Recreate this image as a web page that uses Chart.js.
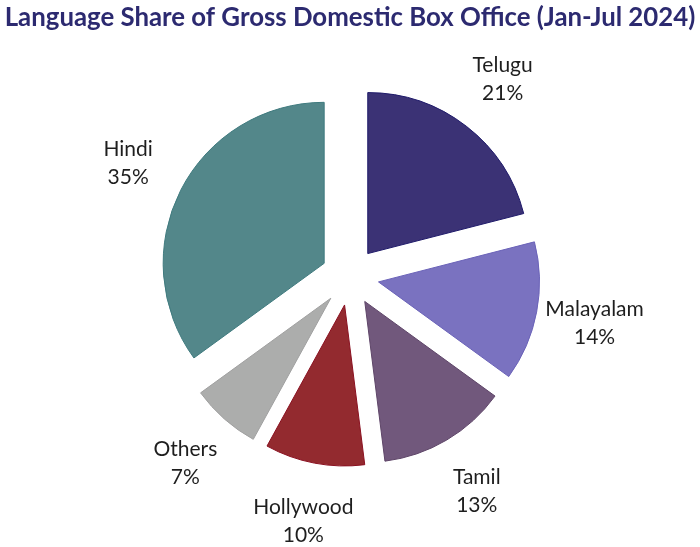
<!DOCTYPE html>
<html>
<head>
<meta charset="utf-8">
<script src="https://cdn.jsdelivr.net/npm/chart.js@4"></script>
<style>
  html, body { margin: 0; padding: 0; background: #fff; }
  #wrap { width: 700px; height: 547px; }
</style>
</head>
<body>
<div id="wrap"><canvas id="grafica"></canvas></div>
<script>
// Share of gross domestic box office by language, Jan-Jul 2024
const idiomas = ['Telugu', 'Malayalam', 'Tamil', 'Hollywood', 'Others', 'Hindi'];
const participacion = [21, 14, 13, 10, 7, 35];
const colores = ['#3b3275', '#7a72c0', '#71587c', '#932a2f', '#acadac', '#53878a'];
const bordes = ['#1f1a6a', '#6a62b8', '#5e4568', '#8a1020', '#a0a0a0', '#3f7a7e'];

const titulo = 'Language Share of Gross Domestic Box Office (Jan-Jul 2024)';
const separacion = 29; // desplazamiento de cada porción hacia afuera

// Separar las porciones sin que cambie su radio
const explotar = {
    id: 'explotar',
    beforeDatasetDraw(chart) {
        chart.getDatasetMeta(0).data.forEach(arco => {
            if (arco._envuelto) return;
            const original = arco.draw;
            arco.draw = function (ctx) {
                const medio = (this.startAngle + this.endAngle) / 2;
                ctx.save();
                ctx.translate(Math.cos(medio) * separacion, Math.sin(medio) * separacion);
                original.call(this, ctx);
                ctx.restore();
            };
            arco._envuelto = true;
        });
    }
};

// Etiquetas fuera de cada porción
const etiquetas = {
    id: 'etiquetas',
    afterDatasetsDraw(chart) {
        const ctx = chart.ctx;
        const arcos = chart.getDatasetMeta(0).data;
        const total = participacion.reduce((a, b) => a + b, 0);
        ctx.save();
        ctx.font = '21px Lato';
        ctx.fillStyle = '#1e1e1e';
        ctx.textAlign = 'center';
        ctx.textBaseline = 'middle';
        arcos.forEach((arco, i) => {
            const medio = (arco.startAngle + arco.endAngle) / 2;
            const dist = arco.outerRadius + 88;
            const x = arco.x + Math.cos(medio) * dist;
            const y = arco.y + Math.sin(medio) * dist;
            const pct = Math.round(participacion[i] / total * 100) + '%';
            ctx.fillText(idiomas[i], x, y - 14);
            ctx.fillText(pct, x, y + 14);
        });
        ctx.restore();
    }
};

new Chart(document.getElementById('grafica'), {
    type: 'pie',
    data: {
        labels: idiomas,
        datasets: [{
            data: participacion,
            backgroundColor: colores,
            borderColor: bordes,
            borderWidth: 1,
            radius: 161
        }]
    },
    options: {
        responsive: true,
        maintainAspectRatio: false,
        animation: false,
        layout: { padding: { top: 0, bottom: 28 } },
        plugins: {
            legend: { display: false },
            tooltip: { enabled: false },
            title: {
                display: true,
                text: titulo,
                color: '#2c2a70',
                font: { family: 'Lato', size: 25.8, weight: 'bold' },
                padding: { top: 2, bottom: 1 }
            }
        }
    },
    plugins: [explotar, etiquetas]
});
</script>
</body>
</html>
